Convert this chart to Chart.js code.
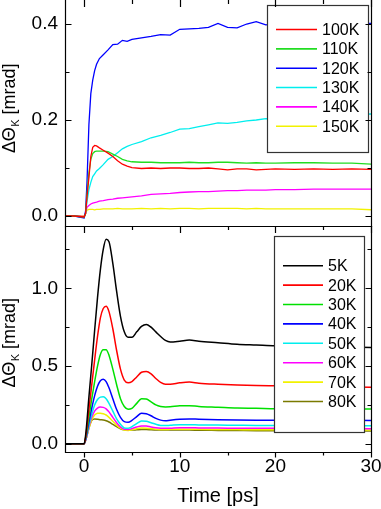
<!DOCTYPE html>
<html><head><meta charset="utf-8">
<script src="https://cdn.jsdelivr.net/npm/chart.js@4.4.1/dist/chart.umd.min.js"></script>
<style>
html,body{margin:0;padding:0;background:#fff;}
#wrap{position:relative;width:381px;height:509px;overflow:hidden;background:#fff;}
canvas{position:absolute;left:0;}
</style></head><body>
<div id="wrap">
<canvas id="bot" width="381" height="283" style="top:226px"></canvas>
<canvas id="top" width="381" height="227" style="top:0px"></canvas>
</div>
<script>
// ---------- data: top panel ----------
const timeTop = [-2,-1,0,0.15,0.3,0.5,0.7,0.9,1.1,1.3,1.6,2,2.5,3,3.5,4,4.5,5,6,7,8,9,10,11,12,13,14,15,16,17,18,19,20,22,24,26,28,30];
const k100 = [0,0,-0.002,0.005,0.04,0.08,0.124,0.143,0.147,0.146,0.142,0.137,0.131,0.124,0.115,0.108,0.104,0.101,0.099,0.1,0.099,0.1,0.1,0.099,0.099,0.1,0.098,0.096,0.098,0.098,0.096,0.097,0.098,0.097,0.098,0.097,0.098,0.097];
const k110 = [0,0,-0.002,0.005,0.045,0.09,0.118,0.13,0.134,0.135,0.135,0.135,0.134,0.129,0.124,0.118,0.115,0.113,0.112,0.112,0.111,0.111,0.111,0.112,0.111,0.111,0.112,0.112,0.111,0.11,0.111,0.11,0.11,0.111,0.111,0.11,0.11,0.108];
const k120 = [0,0,-0.004,0.01,0.07,0.19,0.255,0.283,0.303,0.316,0.328,0.336,0.346,0.357,0.358,0.366,0.364,0.368,0.371,0.374,0.378,0.377,0.389,0.39,0.391,0.393,0.401,0.393,0.392,0.4,0.405,0.398,0.4,0.402,0.4,0.402,0.401,0.401];
const k130 = [0,0,-0.003,0.005,0.03,0.055,0.07,0.082,0.088,0.094,0.099,0.107,0.118,0.124,0.132,0.14,0.145,0.149,0.155,0.163,0.168,0.174,0.181,0.182,0.186,0.19,0.194,0.193,0.195,0.198,0.2,0.203,0.202,0.205,0.207,0.209,0.211,0.2125];
const k140 = [0,0,-0.001,0.005,0.018,0.022,0.025,0.027,0.028,0.029,0.031,0.032,0.034,0.035,0.037,0.038,0.039,0.04,0.042,0.045,0.046,0.047,0.049,0.05,0.051,0.051,0.052,0.053,0.053,0.054,0.054,0.054,0.055,0.055,0.056,0.056,0.056,0.056];
const k150 = [0,0,0,0.005,0.012,0.014,0.014,0.014,0.013,0.014,0.014,0.015,0.015,0.015,0.016,0.015,0.015,0.015,0.016,0.015,0.016,0.015,0.016,0.016,0.015,0.016,0.016,0.016,0.016,0.015,0.016,0.015,0.015,0.015,0.015,0.015,0.015,0.013];
const seriesTop = [k100,k110,k120,k130,k140,k150];
const labelsTop = ['100K','110K','120K','130K','140K','150K'];
const colorsTop = ['#ff0000','#22dd22','#0000ff','#00eeee','#ff00ff','#f2f200'];

// ---------- data: bottom panel ----------
const timeBot = [-2,-1,0,0.2,0.5,0.8,1.1,1.4,1.7,2.0,2.3,2.6,3.0,3.4,3.8,4.2,4.6,5.0,5.5,6.0,6.5,7.0,7.5,8.0,8.5,9.0,10,11,12,14,16,18,20,25,30];
const k5  = [0,0,0,0.08,0.30,0.51,0.73,0.94,1.12,1.25,1.315,1.30,1.16,0.98,0.82,0.72,0.685,0.685,0.72,0.755,0.768,0.75,0.72,0.69,0.665,0.655,0.66,0.667,0.66,0.65,0.64,0.635,0.63,0.625,0.62];
const k20 = [0,0,0,0.06,0.22,0.38,0.54,0.69,0.81,0.87,0.885,0.85,0.74,0.60,0.48,0.41,0.393,0.40,0.43,0.46,0.465,0.45,0.42,0.395,0.383,0.383,0.392,0.397,0.39,0.383,0.378,0.375,0.373,0.368,0.363];
const k30 = [0,0,0,0.05,0.17,0.29,0.40,0.50,0.575,0.605,0.605,0.57,0.48,0.38,0.29,0.24,0.222,0.228,0.26,0.29,0.288,0.27,0.25,0.24,0.237,0.238,0.244,0.245,0.24,0.235,0.23,0.228,0.225,0.224,0.223];
const k40 = [0,0,0,0.04,0.14,0.23,0.31,0.37,0.405,0.415,0.40,0.36,0.29,0.22,0.17,0.142,0.138,0.15,0.175,0.196,0.193,0.18,0.163,0.152,0.148,0.152,0.158,0.16,0.158,0.155,0.153,0.152,0.152,0.151,0.15];
const k50 = [0,0,0,0.035,0.12,0.19,0.25,0.285,0.30,0.302,0.29,0.26,0.21,0.16,0.125,0.102,0.10,0.11,0.13,0.147,0.145,0.135,0.125,0.118,0.117,0.119,0.123,0.123,0.121,0.12,0.119,0.118,0.118,0.117,0.116];
const k60 = [0,0,0,0.03,0.11,0.17,0.21,0.23,0.236,0.234,0.225,0.205,0.17,0.135,0.108,0.093,0.092,0.098,0.108,0.115,0.114,0.108,0.103,0.1,0.099,0.1,0.103,0.103,0.102,0.101,0.1,0.099,0.099,0.098,0.097];
const k70 = [0,0,0,0.03,0.10,0.155,0.185,0.196,0.197,0.193,0.185,0.17,0.145,0.12,0.10,0.088,0.086,0.09,0.097,0.101,0.1,0.097,0.094,0.092,0.092,0.093,0.094,0.094,0.093,0.092,0.091,0.09,0.09,0.089,0.088];
const k80 = [0,0,0,0.03,0.10,0.15,0.159,0.158,0.155,0.153,0.148,0.14,0.125,0.11,0.097,0.09,0.088,0.088,0.09,0.092,0.092,0.09,0.089,0.088,0.088,0.088,0.088,0.088,0.087,0.086,0.085,0.084,0.084,0.083,0.082];
const seriesBot = [k5,k20,k30,k40,k50,k60,k70,k80];
const labelsBot = ['5K','20K','30K','40K','50K','60K','70K','80K'];
const colorsBot = ['#000000','#ff0000','#00e000','#0000ff','#00eeee','#ff00ff','#f2f200','#7a7a00'];

// ---------- ticks / titles ----------
const yTicksTop = [0, 0.2, 0.4];
const yMinorTop = [0.1, 0.3];
const yTicksBot = [0, 0.5, 1.0];
const yMinorBot = [0.25, 0.75, 1.25];
const xTicks = [0, 10, 20, 30];
const xMinor = [5, 15, 25];
const xTitle = 'Time [ps]';
const yTitleMain = 'ΔΘ', yTitleSub = 'K', yTitleUnit = ' [mrad]';

const FONT = '"Liberation Sans", Arial, Helvetica, sans-serif';
Chart.defaults.font.family = FONT;
Chart.defaults.color = '#000';

function px(v){ return Math.round(v) + 0.5; }

const deco = {
  id: 'deco',
  afterDatasetsDraw(chart, args, o) {
    const ctx = chart.ctx, ca = chart.chartArea;
    const xs = chart.scales.x, ys = chart.scales.y;
    ctx.save();
    // legend box
    const L = o.legend;
    ctx.fillStyle = '#fff';
    ctx.fillRect(L.x, L.y, L.w, L.h);
    ctx.strokeStyle = '#333'; ctx.lineWidth = 1.2;
    ctx.strokeRect(L.x + 0.5, L.y + 0.5, L.w, L.h);
    ctx.font = L.size + 'px ' + FONT;
    ctx.textBaseline = 'middle'; ctx.textAlign = 'left';
    chart.data.datasets.forEach((d, i) => {
      const yy = L.row0 + i * L.dy;
      ctx.strokeStyle = d.borderColor; ctx.lineWidth = 1.6;
      ctx.beginPath(); ctx.moveTo(L.lx1, yy); ctx.lineTo(L.lx2, yy); ctx.stroke();
      ctx.fillStyle = '#000'; ctx.fillText(d.label, L.tx, yy + 1);
    });
    // frame
    ctx.strokeStyle = '#000'; ctx.lineWidth = 1.2;
    const l = px(ca.left), r = px(ca.right), t = px(ca.top), b = px(ca.bottom);
    ctx.beginPath();
    ctx.moveTo(l, o.topLine ? t : ca.top); ctx.lineTo(l, b); ctx.lineTo(r, b); ctx.lineTo(r, o.topLine ? t : ca.top);
    if (o.topLine) ctx.lineTo(l, t);
    ctx.stroke();
    // y ticks (inward, both sides)
    ctx.beginPath();
    const yt = (vals, len) => vals.forEach(v => {
      const yy = px(ys.getPixelForValue(v));
      ctx.moveTo(l, yy); ctx.lineTo(l + len, yy);
      ctx.moveTo(r, yy); ctx.lineTo(r - len, yy);
    });
    yt(o.yMajor, 6); yt(o.yMinor, 4);
    // x ticks
    const xt = (vals, len, atTop, atBottom, botLen) => vals.forEach(v => {
      const xx = px(xs.getPixelForValue(v));
      if (atTop) { ctx.moveTo(xx, ca.top); ctx.lineTo(xx, ca.top + len); }
      if (atBottom) { ctx.moveTo(xx, b); ctx.lineTo(xx, b + botLen); }
    });
    xt(xTicks, 7, true, o.bottomTicks, 5);
    xt(xMinor, 4, true, o.bottomTicks, 3);
    ctx.stroke();
    // y title with subscript
    const T = o.title;
    ctx.translate(T.x, T.y); ctx.rotate(-Math.PI / 2);
    ctx.fillStyle = '#000'; ctx.textBaseline = 'alphabetic';
    const mf = T.size + 'px ' + FONT, sf = T.sub + 'px ' + FONT;
    ctx.font = mf; const w1 = ctx.measureText(yTitleMain).width, w3 = ctx.measureText(yTitleUnit).width;
    ctx.font = sf; const w2 = ctx.measureText(yTitleSub).width;
    let s = -(w1 + w2 + w3) / 2;
    ctx.font = mf; ctx.fillText(yTitleMain, s, 0);
    ctx.font = sf; ctx.fillText(yTitleSub, s + w1 + 0.5, T.drop);
    ctx.font = mf; ctx.fillText(yTitleUnit, s + w1 + w2 + 0.5, 0);
    ctx.restore();
  }
};

function mk(times, arr, label, color, i, smooth) {
  return {
    label: label, borderColor: color, backgroundColor: color,
    data: times.map((t, j) => ({x: t, y: arr[j]})),
    borderWidth: smooth ? 1.5 : 1.3, pointRadius: 0, fill: false,
    cubicInterpolationMode: smooth ? 'monotone' : 'default', tension: 0
  };
}

function yScale(min, max, ticks) {
  return {
    type: 'linear', min: min, max: max,
    afterFit(s) { s.width = 65; s.paddingTop = 0; s.paddingBottom = 0; },
    afterBuildTicks(s) { s.ticks = ticks.map(v => ({value: v})); },
    grid: {display: false, drawTicks: false}, border: {display: false},
    ticks: {padding: 7, font: {size: 19}, callback: v => Number(v).toFixed(1)}
  };
}

new Chart(document.getElementById('top'), {
  type: 'line',
  data: {datasets: seriesTop.map((a, i) => mk(timeTop, a, labelsTop[i], colorsTop[i], i, false))},
  options: {
    responsive: false, animation: false, devicePixelRatio: 1,
    layout: {padding: {left: 0, right: 10, top: 0, bottom: 1}},
    plugins: {
      legend: {display: false}, tooltip: {enabled: false},
      deco: {
        legend: {x: 267, y: 5, w: 101, h: 147, size: 16, row0: 29.5, dy: 19.35, lx1: 276, lx2: 317, tx: 322},
        yMajor: yTicksTop, yMinor: yMinorTop, topLine: false, bottomTicks: false,
        title: {x: 14.5, y: 108.5, size: 18, sub: 11, drop: 4}
      }
    },
    scales: {
      x: {type: 'linear', min: -2, max: 30, display: false},
      y: yScale(-0.0208, 0.45, yTicksTop)
    }
  },
  plugins: [deco]
});

new Chart(document.getElementById('bot'), {
  type: 'line',
  data: {datasets: seriesBot.map((a, i) => mk(timeBot, a, labelsBot[i], colorsBot[i], i, true))},
  options: {
    responsive: false, animation: false, devicePixelRatio: 1,
    layout: {padding: {left: 0, right: 10, top: 0, bottom: 0}},
    plugins: {
      legend: {display: false}, tooltip: {enabled: false},
      deco: {
        legend: {x: 274, y: 10, w: 90, h: 196, size: 16, row0: 39.7, dy: 19.4, lx1: 283, lx2: 323, tx: 328},
        yMajor: yTicksBot, yMinor: yMinorBot, topLine: true, bottomTicks: true,
        title: {x: 14.5, y: 117, size: 18, sub: 11, drop: 4}
      }
    },
    scales: {
      x: {
        type: 'linear', min: -2, max: 30,
        afterFit(s) { s.height = 57; s.paddingLeft = 0; s.paddingRight = 0; },
        afterBuildTicks(s) { s.ticks = xTicks.map(v => ({value: v})); },
        grid: {display: false, drawTicks: false}, border: {display: false},
        ticks: {padding: 3, font: {size: 19}, maxRotation: 0, callback: v => String(v)},
        title: {display: true, text: xTitle, font: {size: 20}, padding: {top: 0, bottom: 1}}
      },
      y: yScale(-0.053, 1.401, yTicksBot)
    }
  },
  plugins: [deco]
});
</script>
</body></html>
